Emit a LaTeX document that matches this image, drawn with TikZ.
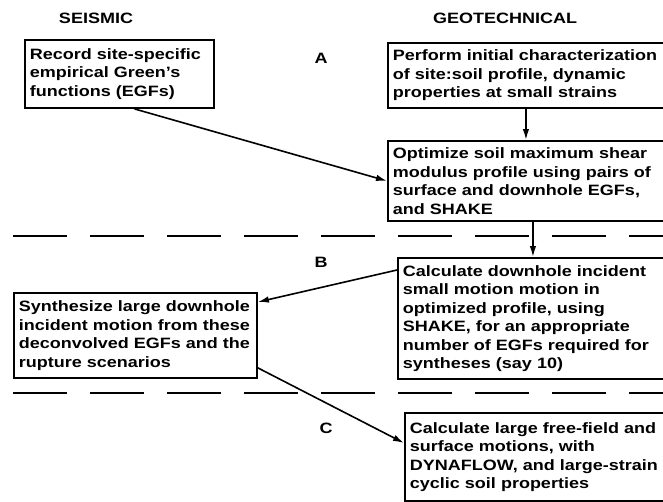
\documentclass[tikz,border=0pt]{standalone}
\usepackage{fontspec}
\setmainfont{Liberation Sans}[FakeStretch=1.2]
\usetikzlibrary{arrows.meta}

\tikzset{
  stepbox/.style={draw, line width=1.9pt, anchor=north west, align=left,
    inner xsep=5pt, inner ysep=5pt, font=\fontsize{15}{18.5}\selectfont\bfseries},
  heading/.style={font=\fontsize{15}{18}\selectfont\bfseries},
  flow/.style={-{Latex[length=11pt,width=6.5pt]}, line width=1.6pt},
  divider/.style={line width=2.2pt, dash pattern=on 54pt off 23pt}
}

\begin{document}
\begin{tikzpicture}[x=1pt,y=-1pt]
            \useasboundingbox (0,0) rectangle (663,501);
            \fill[white] (0,0) rectangle (663,501);

            \node[heading] (seis) at (96,18) {SEISMIC};
            \node[heading] (geo) at (505,18) {GEOTECHNICAL};

            \node[heading] (lblA) at (321,58) {A};
            \node[heading] (lblB) at (321,262) {B};
            \node[heading] (lblC) at (326,428) {C};

            \draw[divider] (13,236) -- (670,236);
            \draw[divider] (13,393) -- (670,393);

            \node[stepbox, text width=179pt, minimum height=68pt] (rec) at (24,39)
                {Record site-specific\\empirical Green's\\functions (EGFs)};
            \node[stepbox, text width=280pt, minimum height=65pt] (perf) at (387,42)
                {Perform initial characterization\\of site:soil profile, dynamic\\properties at small strains};
            \node[stepbox, text width=280pt, minimum height=80pt] (opt) at (387,140)
                {Optimize soil maximum shear\\modulus profile using pairs of\\surface and downhole EGFs,\\and SHAKE};
            \node[stepbox, text width=280pt, minimum height=121pt] (calc) at (397,257)
                {Calculate downhole incident\\small motion motion in\\optimized profile, using\\SHAKE, for an appropriate\\number of EGFs required for\\syntheses (say 10)};
            \node[stepbox, text width=233pt, minimum height=85pt] (synth) at (13,292)
                {Synthesize large downhole\\incident motion from these\\deconvolved EGFs and the\\rupture scenarios};
            \node[stepbox, text width=280pt, minimum height=88pt] (free) at (404,412)
                {Calculate large free-field and\\surface motions, with\\DYNAFLOW, and large-strain\\cyclic soil properties};

            \draw[flow] ([xshift=15pt]rec.south) -- (opt.west);
            \draw[flow] ([xshift=-7pt]perf.south) -- ([xshift=-7pt]opt.north);
            \draw[flow] (opt.south) -- ([xshift=-10pt]calc.north);
            \draw[flow] ([yshift=-13pt]calc.north west) -- ([yshift=-10pt]synth.north east);
            \draw[flow] ([yshift=11pt]synth.south east) -- ([yshift=-31pt]free.north west);

        \end{tikzpicture}
\end{document}
